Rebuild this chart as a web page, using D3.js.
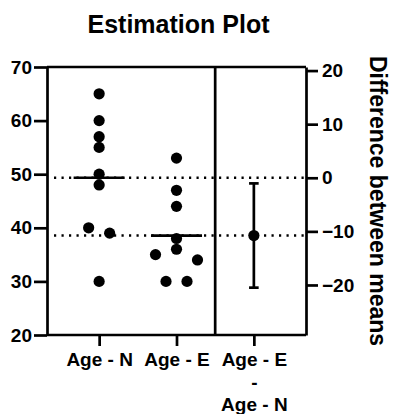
<!DOCTYPE html>
<html>
<head>
<meta charset="utf-8">
<script src="https://cdn.jsdelivr.net/npm/d3@7"></script>
<style>
body{margin:0;background:#fff;}
text{font-family:Arial,"Liberation Sans",sans-serif;font-weight:bold;fill:#000;}
</style>
</head>
<body>
<svg id="basicSVG" width="394" height="414"></svg>
<script>
// categories on the x axis
var categories = ["Age - N","Age - E","Age - E\n-\nAge - N"];
// raw values of the two groups
var ageN = [65,60,57,55,50,48,40,39,30];
var ageE = [53,47,44,38,36,35,34,30,30];
// side-by-side slots of overlapping dots (in dot widths)
var slotN = [0,0,0,0,0,0,-1,1,0];
var slotE = [0,0,0,0,0,-2,2,-1,1];
// difference between means with its 95% CI
var diffMean = -10.78;
var diffCI = [-20.5,-1.05];
var leftTicks = [20,30,40,50,60,70];
var rightTicks = [-20,-10,0,10,20];

var meanN = d3.mean(ageN);
var meanE = d3.mean(ageE);

var svg = d3.select("#basicSVG");
var g = svg.append("g");

var x = d3.scalePoint().domain(categories).range([47,306]).padding(0.674);
var y = d3.scaleLinear().domain([20,70]).range([335,67]);
var yR = d3.scaleLinear().domain([20-meanN,70-meanN]).range([335,67]);
var step = x.step();
var fontSize = 19;

//坐標軸
var axL = g.append("g").attr("transform","translate(47,0)")
	.call(d3.axisLeft(y).tickValues(leftTicks).tickSize(13).tickSizeOuter(0).tickPadding(2));
var axR = g.append("g").attr("transform","translate(306,0)")
	.call(d3.axisRight(yR).tickValues(rightTicks).tickSize(12).tickSizeOuter(0).tickPadding(4));
var axB = g.append("g").attr("transform","translate(0,335)")
	.call(d3.axisBottom(x).tickSize(11).tickSizeOuter(0).tickPadding(7));

[axL,axR,axB].forEach(function(a){
	a.selectAll("path,line").attr("stroke","#000").attr("stroke-width",2.7);
	a.selectAll("text").attr("font-size",fontSize).attr("font-family",null);
});
axB.selectAll("path.domain").attr("d","M47,0H306");

//多行標籤
axB.selectAll(".tick text").each(function(d){
	var t = d3.select(this);
	var lines = d.split("\n");
	t.text(null);
	lines.forEach(function(s,i){
		t.append("tspan").attr("x",0).attr("dy",i==0?"0.71em":"1.18em").text(s);
	});
	t.attr("dy",null);
});

// top border and divider
var xDiv = (x(categories[1]) + x(categories[2]))/2;
g.append("line").attr("x1",47).attr("x2",306).attr("y1",y(70)).attr("y2",y(70))
	.attr("stroke","#000").attr("stroke-width",2.7);
g.append("line").attr("x1",xDiv).attr("x2",xDiv).attr("y1",y(70)).attr("y2",y(20))
	.attr("stroke","#000").attr("stroke-width",2.7);

// dotted reference lines at the group means
[meanN,meanE].forEach(function(m){
	g.append("line").attr("x1",54).attr("x2",305).attr("y1",y(m)).attr("y2",y(m))
		.attr("stroke","#000").attr("stroke-width",2.4).attr("stroke-dasharray","2.2,5.3");
});

// dots
var slotW = 10.5;
function drawGroup(vals,slots,cat,m)
{
	g.selectAll(null).data(vals).enter().append("circle")
		.attr("cx",function(d,i){return x(cat)+slots[i]*slotW;})
		.attr("cy",function(d){return y(d);})
		.attr("r",5.6).attr("fill","#000");
	g.append("line").attr("x1",x(cat)-step*0.33).attr("x2",x(cat)+step*0.33)
		.attr("y1",y(m)).attr("y2",y(m)).attr("stroke","#000").attr("stroke-width",2.7);
}
drawGroup(ageN,slotN,categories[0],meanN);
drawGroup(ageE,slotE,categories[1],meanE);

// difference with CI
var xd = x(categories[2]);
g.append("line").attr("x1",xd).attr("x2",xd).attr("y1",yR(diffCI[0])).attr("y2",yR(diffCI[1]))
	.attr("stroke","#000").attr("stroke-width",2.7);
diffCI.forEach(function(c){
	g.append("line").attr("x1",xd-4.8).attr("x2",xd+4.8).attr("y1",yR(c)).attr("y2",yR(c))
		.attr("stroke","#000").attr("stroke-width",2.7);
});
g.append("circle").attr("cx",xd).attr("cy",yR(diffMean)).attr("r",5.6).attr("fill","#000");

// title and right axis title
svg.append("text").attr("x",178.5).attr("y",33).attr("text-anchor","middle")
	.attr("font-size",25).text("Estimation Plot");
svg.append("text").attr("transform","translate(370,"+((y(70)+y(20))/2)+") rotate(90)")
	.attr("text-anchor","middle").attr("font-size",23).text("Difference between means");
</script>
</body>
</html>
